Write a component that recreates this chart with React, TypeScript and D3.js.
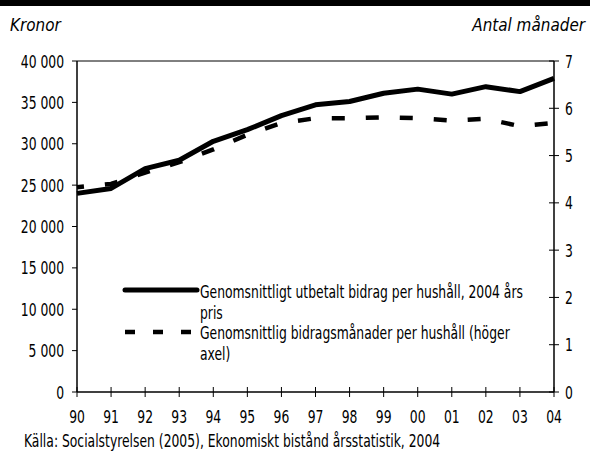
import React from "react";
import * as d3 from "d3";

const years = ["90","91","92","93","94","95","96","97","98","99","00","01","02","03","04"];
const kronor = [24000, 24600, 27000, 28000, 30300, 31700, 33400, 34700, 35100, 36100, 36600, 36000, 36900, 36300, 37900];
const months = [4.33, 4.40, 4.64, 4.86, 5.13, 5.44, 5.69, 5.79, 5.79, 5.81, 5.79, 5.74, 5.78, 5.62, 5.69];
const leftTicks = [0, 5000, 10000, 15000, 20000, 25000, 30000, 35000, 40000];
const rightTicks = [0, 1, 2, 3, 4, 5, 6, 7];
const legend1 = ["Genomsnittligt utbetalt bidrag per hushåll, 2004 års", "pris"];
const legend2 = ["Genomsnittlig bidragsmånader per hushåll (höger", "axel)"];
const source = "Källa: Socialstyrelsen (2005), Ekonomiskt bistånd årsstatistik, 2004";

const FONT = "'DejaVu Sans Condensed', 'DejaVu Sans', sans-serif";

function T({ x, y, children, anchor = "start", italic = false, size = 17.5, sx = 0.786 }: any) {
  return (
    <text
      transform={`translate(${x},${y}) scale(${sx},1)`}
      fontSize={size}
      textAnchor={anchor}
      fontStyle={italic ? "italic" : "normal"}
    >
      {children}
    </text>
  );
}

export default function App() {
  const W = 590, H = 451;
  const L = 77, R = 554, Tp = 61, B = 392;
  const x = d3.scalePoint<string>().domain(years).range([L, R]);
  const yL = d3.scaleLinear().domain([0, 40000]).range([B, Tp]);
  const yR = d3.scaleLinear().domain([0, 7]).range([B, Tp]);
  const fmt = (v: number) => d3.format(",")(v).replace(/,/g, " ");
  const line1 = d3.line<number>().x((_, i) => x(years[i])!).y(d => yL(d));
  const line2 = d3.line<number>().x((_, i) => x(years[i])!).y(d => yR(d));
  return (
    <svg width={W} height={H} style={{ position: "absolute", left: 0, top: 0, background: "#fff", fontStretch: "condensed" }} fontFamily={FONT}>
      <rect x={0} y={0} width={W} height={6} fill="#000" />
      <T x={10} y={31} italic size={18} sx={0.94}>Kronor</T>
      <T x={585} y={31} anchor="end" italic size={18} sx={0.94}>Antal månader</T>
      {/* frame */}
      <line x1={L} x2={R} y1={Tp} y2={Tp} stroke="#000" strokeWidth={1} />
      <line x1={L} x2={L} y1={Tp} y2={B} stroke="#000" strokeWidth={1.5} />
      <line x1={R} x2={R} y1={Tp} y2={B} stroke="#000" strokeWidth={1.5} />
      <line x1={L} x2={R} y1={B} y2={B} stroke="#000" strokeWidth={1.5} />
      {leftTicks.map(t => (
        <g key={"l" + t}>
          <line x1={L - 5} x2={L} y1={yL(t)} y2={yL(t)} stroke="#000" />
          <T x={64} y={yL(t) + 6.5} anchor="end">{fmt(t)}</T>
        </g>
      ))}
      {rightTicks.map(t => (
        <g key={"r" + t}>
          <line x1={R - 5} x2={R + 5} y1={yR(t)} y2={yR(t)} stroke="#000" />
          <T x={565} y={yR(t) + 6.5}>{t}</T>
        </g>
      ))}
      {years.map(yr => (
        <g key={"x" + yr}>
          <line x1={x(yr)!} x2={x(yr)!} y1={B - 5} y2={B + 5} stroke="#000" />
          <T x={x(yr)!} y={423} anchor="middle">{yr}</T>
        </g>
      ))}
      <path d={line2(months)!} fill="none" stroke="#000" strokeWidth={4.5} strokeDasharray="13 21" strokeDashoffset={6} />
      <path d={line1(kronor)!} fill="none" stroke="#000" strokeWidth={5} strokeLinejoin="round" />
      {/* legend */}
      <line x1={125} x2={197} y1={290} y2={290} stroke="#000" strokeWidth={5} strokeLinecap="round" />
      <T x={200} y={298}>{legend1[0]}</T>
      <T x={200} y={319}>{legend1[1]}</T>
      <line x1={125} x2={193} y1={332} y2={332} stroke="#000" strokeWidth={4.5} strokeDasharray="10 18" />
      <T x={200} y={339}>{legend2[0]}</T>
      <T x={200} y={360}>{legend2[1]}</T>
      <T x={24} y={447}>{source}</T>
    </svg>
  );
}
